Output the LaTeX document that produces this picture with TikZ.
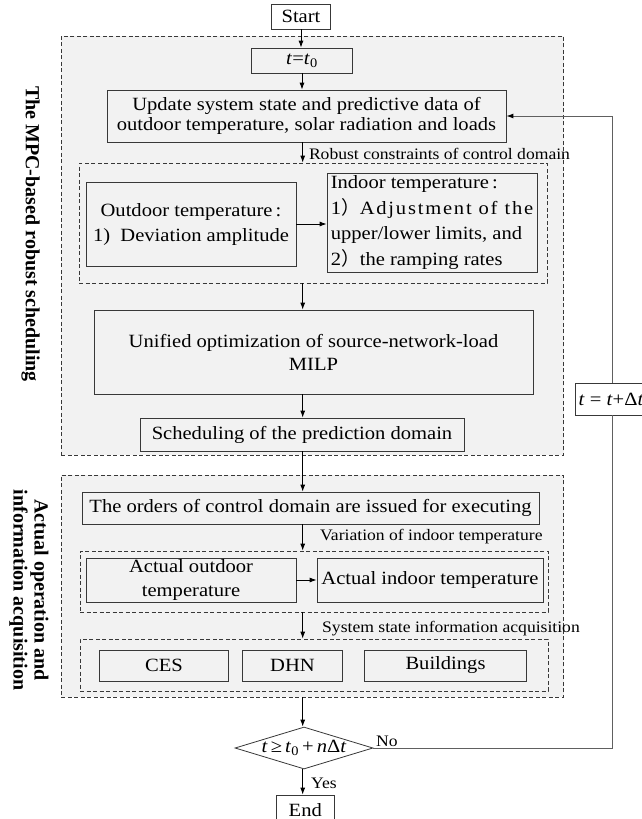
\documentclass[tikz,border=0pt]{standalone}
\usepackage{fontspec}
\setmainfont{Liberation Serif}[FakeStretch=1.1]
\newfontfamily\sidefont{Liberation Serif}
\newfontfamily\cjk{Noto Sans CJK SC}
\usetikzlibrary{shapes.geometric,arrows.meta}

\definecolor{panel}{HTML}{F2F2F2}
\definecolor{edge}{HTML}{383838}
\definecolor{loopline}{HTML}{606060}

\newcommand\boxfont{\fontsize{18.7}{20}\selectfont}
\newcommand\notefont{\fontsize{16}{18}\selectfont}
\newcommand\fwparen{{\cjk ）}}

\tikzset{
  box/.style={draw=edge, line width=0.8pt, fill=panel, inner sep=0pt,
    align=center, font=\boxfont},
  wbox/.style={box, fill=white},
  zone/.style={draw=edge, dash pattern=on 4pt off 2.5pt, line width=0.8pt,
    fill=panel, inner sep=0pt},
  arr/.style={-{Latex[length=7pt,width=5pt,black]}, line width=0.8pt},
  link/.style={line width=1pt, draw=loopline},
  note/.style={font=\notefont, anchor=west, inner sep=0pt},
  side/.style={font={\sidefont\bfseries\fontsize{20}{21}\selectfont},
    rotate=-90, align=center, inner sep=0pt},
  decision/.style={shape=diamond, draw=edge, line width=0.8pt, fill=white,
    inner sep=0pt, minimum width=138pt, minimum height=42pt}
}

\begin{document}
\begin{tikzpicture}[x=1pt, y=-1pt]
\useasboundingbox (0,0) rectangle (641,819);

% dashed zones
\node[zone, minimum width=502.3pt, minimum height=419pt] (mpc) at (312.45,245.5) {};
\node[zone, minimum width=502.3pt, minimum height=222pt] (act) at (312.45,586) {};
\node[zone, minimum width=468pt, minimum height=120pt] (in1) at (313,223) {};
\node[zone, minimum width=468pt, minimum height=61pt] (in2) at (314,581.5) {};
\node[zone, minimum width=468pt, minimum height=52pt] (in3) at (314,665) {};

% side titles
\node[side] (mpcTitle) at (30.5,234) {The MPC-based robust scheduling};
\node[side] (actTitle) at (29,590) {Actual operation and\\information acquisition};

% main column
\coordinate (col) at (302.7,0);
\node[wbox, minimum width=58.5pt, minimum height=25pt] (start) at (301,16.5) {Start};
\node[box, minimum width=101.5pt, minimum height=25pt] (t0) at (302,60.5)
  {\textit{t}=\textit{t}\textsubscript{0}};
\node[box, minimum width=399pt, minimum height=52pt] (update) at (306.5,116)
  {Update system state and predictive data of\\outdoor temperature, solar radiation and loads};

\node[box, minimum width=210pt, minimum height=84pt,
  font={\fontsize{18.7}{25}\selectfont}] (outdoor) at (191,224)
  {Outdoor temperature\,:\\1)~~Deviation amplitude};
\node[box, minimum width=210pt, minimum height=99pt, align=left,
  font={\fontsize{18.7}{25.5}\selectfont}] (indoor) at (432,222.5)
  {Indoor temperature\,:\\1\fwparen{\addfontfeature{LetterSpace=9.5}Adjustment of the}\\upper/lower limits, and\\2\fwparen{}the ramping rates};

\node[box, minimum width=439pt, minimum height=84pt,
  font={\fontsize{18.7}{23}\selectfont}] (milp) at (313.5,352)
  {Unified optimization of source-network-load\\MILP};
\node[box, minimum width=324pt, minimum height=33pt] (sched) at (302,434.5)
  {Scheduling of the prediction domain};

\node[box, minimum width=457pt, minimum height=32pt] (orders) at (310.5,508)
  {The orders of control domain are issued for executing};
\node[box, minimum width=210pt, minimum height=44pt,
  font={\fontsize{18.7}{24}\selectfont}] (aout) at (191,580)
  {Actual outdoor\\temperature};
\node[box, minimum width=226pt, minimum height=44pt] (ain) at (430,580)
  {Actual indoor temperature};

\node[box, minimum width=129pt, minimum height=31pt] (ces) at (164,665.5) {CES};
\node[box, minimum width=100.5pt, minimum height=31pt] (dhn) at (292.5,665.5) {DHN};
\node[box, minimum width=162pt, minimum height=31pt] (bld) at (445.5,665.5) {Buildings};

\node[decision] (dia) at (304,748) {};
\node[font=\boxfont, inner sep=0pt] (cond) at (dia.center)
  {\textit{t}\,≥\,\textit{t}\textsubscript{0}\,+\,\textit{n}Δ\textit{t}};
\node[wbox, minimum width=58.5pt, minimum height=30pt] (end) at (305.3,810) {End};

\node[wbox, anchor=west, minimum height=32pt, inner xsep=3.5pt] (tbox) at (574.6,399)
  {\textit{t}\;=\;\textit{t}+Δ\textit{t}};

% connector notes
\node[note] (nRobust) at (308.8,154) {Robust constraints of control domain};
\node[note] (nVar) at (320,537) {Variation of indoor temperature};
\node[note] (nSys) at (322,628.5) {System state information acquisition};
\node[note] (nNo) at (376,741) {No};
\node[note] (nYes) at (311,783) {Yes};

% connectors
\draw[arr] (start.south) -- (start.south |- t0.north);
\draw[arr] (t0.south) -- (t0.south |- update.north);
\draw[arr] (col |- update.south) -- (col |- in1.north);
\draw[arr] (outdoor.east) -- (indoor.west |- outdoor.east);
\draw[arr] (col |- in1.south) -- (col |- milp.north);
\draw[arr] (col |- milp.south) -- (col |- sched.north);
\draw[arr] (col |- sched.south) -- (col |- orders.north);
\draw[arr] (col |- orders.south) -- (col |- in2.north);
\draw[arr] (aout.east) -- (ain.west |- aout.east);
\draw[arr] (col |- in2.south) -- (col |- in3.north);
\draw[arr] (col |- act.south) -- (col |- dia.north);
\draw[arr] (col |- dia.south) -- (col |- end.north);

% loop back to the update step
\coordinate (fb) at (612.7,399);
\draw[link] (dia.east) -| (fb |- tbox.south);
\draw[arr, link] (fb |- tbox.north) |- (update.east);
\end{tikzpicture}
\end{document}
